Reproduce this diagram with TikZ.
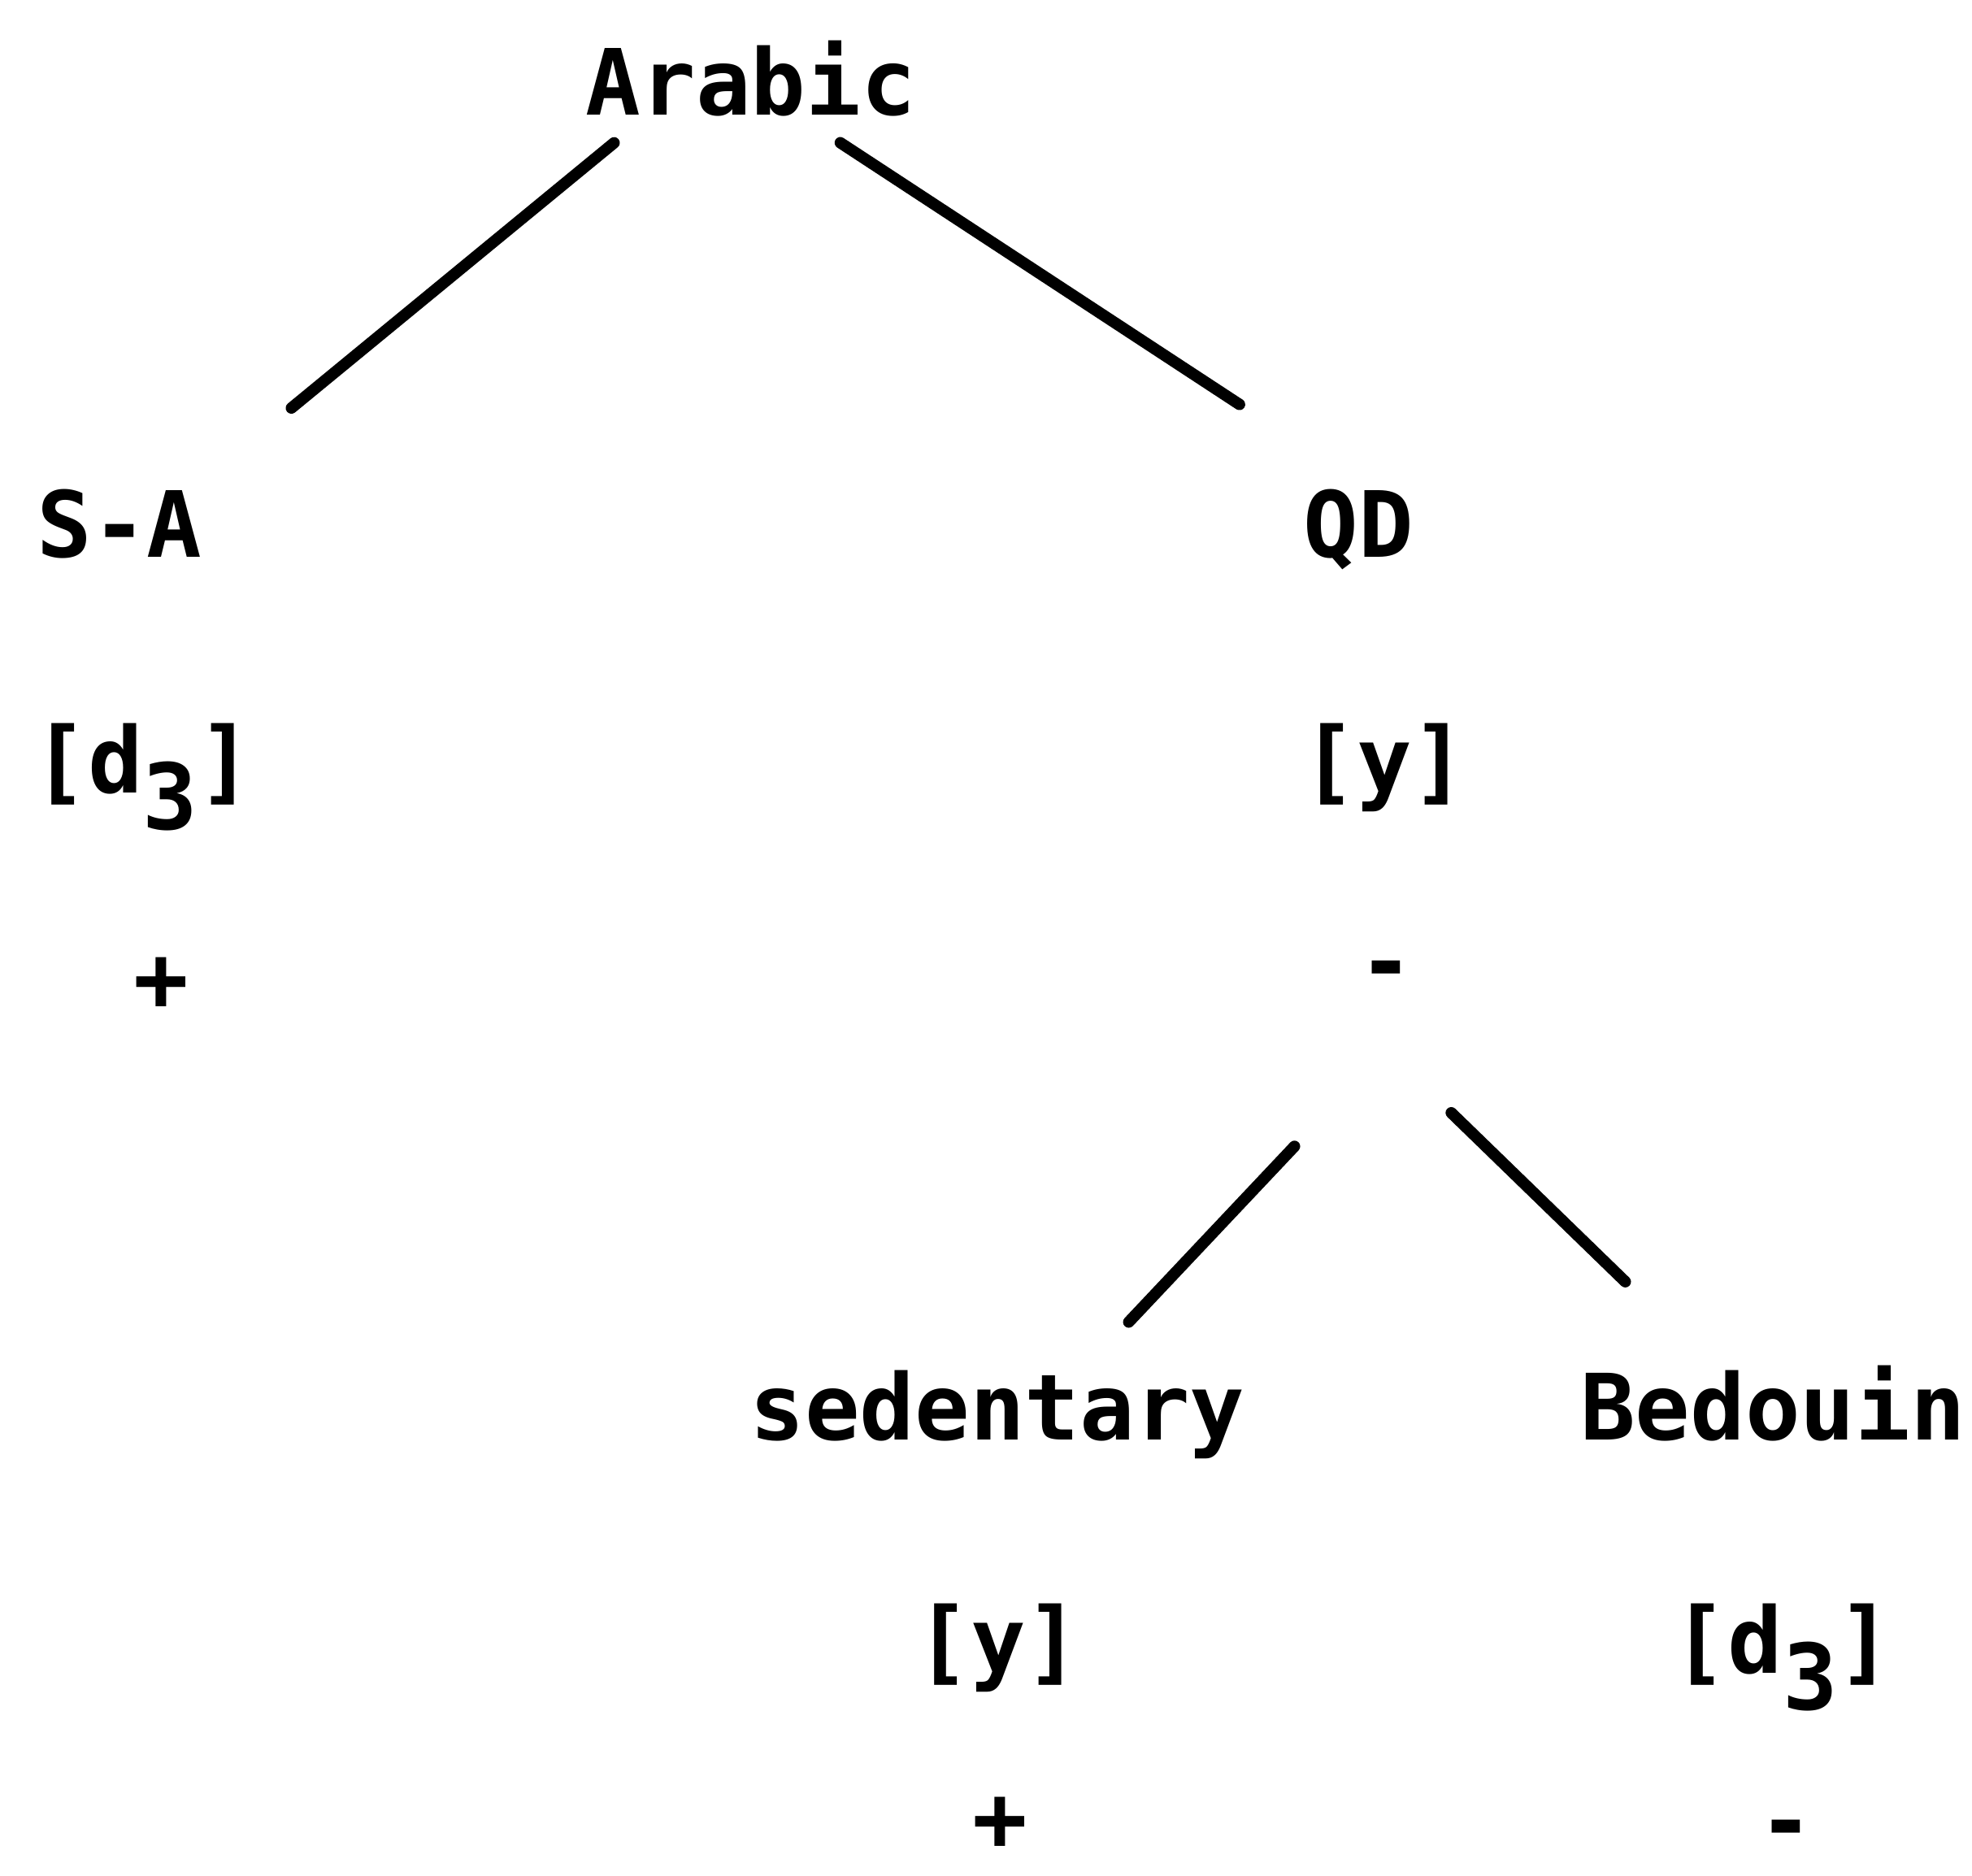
\documentclass[tikz,border=0pt]{standalone}
\usepackage{fontspec}
\newfontfamily\treefont{DejaVu Sans Mono}
\usepackage{tikz}

\begin{document}
\begin{tikzpicture}[
    word/.style={inner sep=0pt, text height=0.82cm, text depth=0pt,
                 font=\treefont\bfseries\fontsize{32}{38}\selectfont},
    branch/.style={line width=4pt, line cap=round},
  ]
  \useasboundingbox (0,0) rectangle (24.26,-23.07);

  % Root
  \node[word] (arabic) at (9.24,-1.01) {Arabic};

  % Left branch
  \node[word] (sa)     at (1.47,-6.44)  {S-A};
  \node[word] (sad)    at (1.76,-9.34)  {[d\raisebox{-0.45cm}{3}]};
  \node[word] (saplus) at (1.98,-12.02) {+};

  % Right branch
  \node[word] (qd)      at (16.71,-6.44)  {QD};
  \node[word] (qdy)     at (17.03,-9.34)  {[y]};
  \node[word] (qdminus) at (17.05,-11.81) {-};
  \coordinate (qdfork) at ([yshift=-1.1cm]qdminus.center);

  % QD splits
  \node[word] (sed)      at (12.27,-17.30) {sedentary};
  \node[word] (sedy)     at (12.28,-20.17) {[y]};
  \node[word] (sedplus)  at (12.30,-22.35) {+};
  \node[word] (bed)      at (21.81,-17.30) {Bedouin};
  \node[word] (bedd)     at (21.93,-20.17) {[d\raisebox{-0.45cm}{3}]};
  \node[word] (bedminus) at (21.97,-22.38) {-};

  % Branches
  \draw[branch, shorten <=0.52cm, shorten >=1.58cm] (arabic.198) -- (sa.25);
  \draw[branch, shorten <=0.60cm, shorten >=1.91cm] (arabic.325) -- (qd.72);
  \draw[branch, shorten <=1.64cm, shorten >=0.85cm] (qdfork) -- (sed.22);
  \draw[branch, shorten <=1.12cm, shorten >=1.60cm] (qdfork) -- (bed.148);
\end{tikzpicture}
\end{document}
